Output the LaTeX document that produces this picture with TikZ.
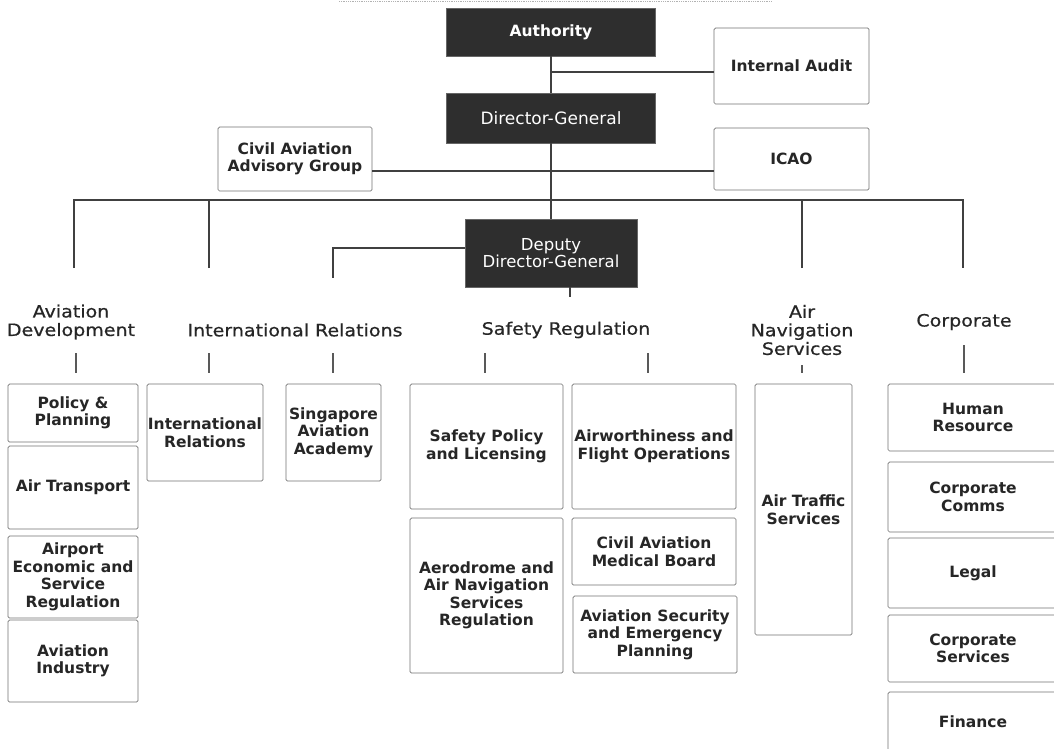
\documentclass[tikz,border=0pt]{standalone}
\usepackage{fontspec}
\setmainfont{DejaVu Sans}
\newfontfamily\catfont[FakeStretch=1.12,FakeBold=0.6]{DejaVu Sans}
\begin{document}
\begin{tikzpicture}[x=1pt,y=-1pt,
  box/.style={draw=black!55, line width=0.7pt, rounded corners=1.5pt, fill=white, inner sep=0pt, align=center, text=black!85, font=\fontsize{15.5}{17.5}\selectfont\bfseries},
  dark/.style={fill=black!82, draw=black!60, line width=0.6pt, inner sep=0pt, align=center, text=white},
  cat/.style={inner sep=0pt, align=center, text=black!85, font=\catfont\fontsize{17}{18.5}\selectfont},
  conn/.style={draw=black!75, line width=1.6pt},
  tickline/.style={draw=black!65, line width=1.3pt}]
\fill[white] (0,0) rectangle (1054,748);
\useasboundingbox (0,0) rectangle (1054,748);

% faint top line
\coordinate (tl1) at (339,1);
\coordinate (tl2) at (772,1);
\draw[gray!60, line width=0.8pt, densely dotted] (tl1) -- (tl2);

% top level
\node[dark, minimum width=209pt, minimum height=48pt, font=\fontsize{15.5}{17}\selectfont\bfseries] (auth) at (551,32) {Authority};
\node[dark, minimum width=209pt, minimum height=50pt, font=\fontsize{17}{17}\selectfont] (dg) at (551,118) {Director-General};
\node[box, minimum width=155pt, minimum height=76pt] (ia) at (791.5,66) {Internal Audit};
\node[box, minimum width=154pt, minimum height=64pt] (caag) at (295,159) {Civil Aviation\\Advisory Group};
\node[box, minimum width=155pt, minimum height=62pt] (icao) at (791.5,159) {ICAO};
\node[dark, minimum width=172pt, minimum height=68pt, font=\fontsize{16.5}{15}\selectfont] (ddg) at (551,253) {Deputy\\Director-General};

% connectors top
\draw[conn] (auth.south) -- (dg.north);
\coordinate (iaj) at (551,72);
\draw[conn] (iaj) -- (iaj -| ia.west);
\coordinate (cj) at (551,171);
\draw[conn] (cj -| caag.east) -- (cj -| icao.west);
\draw[conn] (dg.south) -- (ddg.north);
\coordinate (busL) at (74,200);
\coordinate (busR) at (963,200);
\coordinate (b1) at (74,268);
\coordinate (b2) at (209,268);
\coordinate (b3) at (802,268);
\coordinate (b4) at (963,268);
\draw[conn] (b1) -- (busL) -- (busR) -- (b4);
\draw[conn] (b2) -- (b2 |- busL);
\draw[conn] (b3) -- (b3 |- busL);
\coordinate (sj) at (333,278);
\draw[conn] ([yshift=5pt]ddg.west) -| (sj);
\draw[conn] ([xshift=19pt]ddg.south) -- ++(0,10);

% category labels
\node[cat] (lad) at (71,322) {Aviation\\Development};
\node[cat] (lir) at (295,330) {International Relations};
\node[cat] (lsr) at (566,330) {Safety Regulation};
\node[cat] (lans) at (802,330) {Air\\Navigation\\Services};
\node[cat] (lcorp) at (964,322) {Corporate};

% ticks
\foreach \n/\x/\ya in {1/76/353, 2/209/353, 3/333/353, 4/485/353, 5/648/353, 6/802/365, 7/964/345}{
  \coordinate (ta\n) at (\x,\ya);
  \coordinate (tb\n) at (\x,373);
  \draw[tickline] (ta\n) -- (tb\n);
}

% Aviation Development column
\node[box, minimum width=130pt, minimum height=58pt] (pp) at (73,413) {Policy \&\\Planning};
\node[box, minimum width=130pt, minimum height=83pt] (at) at (73,487.5) {Air Transport};
\node[box, minimum width=130pt, minimum height=82pt] (ae) at (73,577) {Airport\\Economic and\\Service\\Regulation};
\node[box, minimum width=130pt, minimum height=82pt] (ai) at (73,661) {Aviation\\Industry};

% International Relations
\node[box, minimum width=116pt, minimum height=97pt] (ir) at (205,432.5) {International\\Relations};
\node[box, minimum width=95pt, minimum height=97pt] (saa) at (333.5,432.5) {Singapore\\Aviation\\Academy};

% Safety Regulation
\node[box, minimum width=153pt, minimum height=125pt] (spl) at (486.5,446.5) {Safety Policy\\and Licensing};
\node[box, minimum width=153pt, minimum height=155pt] (aer) at (486.5,595.5) {Aerodrome and\\Air Navigation\\Services\\Regulation};
\node[box, minimum width=164pt, minimum height=125pt] (afo) at (654,446.5) {Airworthiness and\\Flight Operations};
\node[box, minimum width=164pt, minimum height=67pt] (camb) at (654,551.5) {Civil Aviation\\Medical Board};
\node[box, minimum width=164pt, minimum height=77pt] (asep) at (655,634.5) {Aviation Security\\and Emergency\\Planning};

% Air Navigation Services
\node[box, minimum width=97pt, minimum height=251pt] (ats) at (803.5,509.5) {Air Traffic\\Services};

% Corporate
\node[box, minimum width=170pt, minimum height=67pt] (hr) at (973,417.5) {Human\\Resource};
\node[box, minimum width=170pt, minimum height=70pt] (cc) at (973,497) {Corporate\\Comms};
\node[box, minimum width=170pt, minimum height=70pt] (lg) at (973,573) {Legal};
\node[box, minimum width=170pt, minimum height=67pt] (cs) at (973,648.5) {Corporate\\Services};
\node[box, minimum width=170pt, minimum height=60pt] (fin) at (973,722) {Finance};
\end{tikzpicture}
\end{document}
